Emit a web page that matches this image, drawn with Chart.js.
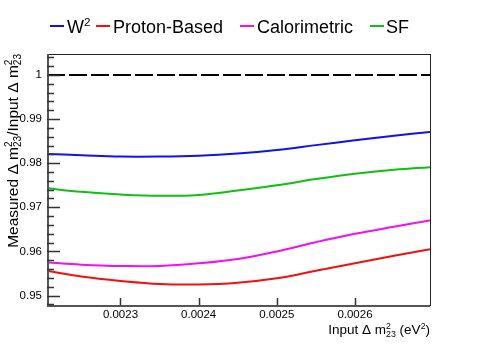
<!DOCTYPE html>
<html>
<head>
<meta charset="utf-8">
<script src="https://cdn.jsdelivr.net/npm/chart.js@4.4.1/dist/chart.umd.min.js"></script>
<style>
  html, body { margin: 0; padding: 0; background: #fff; }
  #wrap { width: 478px; height: 344px; }
</style>
</head>
<body>
<div id="wrap"><canvas id="chartRatio" width="478" height="344"></canvas></div>
<script>
const inputDm2 = [0.002206, 0.00225, 0.0023, 0.00235, 0.0024, 0.00245, 0.0025, 0.00255, 0.0026, 0.00265, 0.002696];

// Measured / input ratio for each method
const ratioW2 = [0.9821, 0.9818, 0.9815, 0.9815, 0.9817, 0.9822, 0.9830, 0.9841, 0.9852, 0.9862, 0.9871];
const ratioProton = [0.9556, 0.9543, 0.9533, 0.9526, 0.9525, 0.9529, 0.9539, 0.9556, 0.9573, 0.9590, 0.9605];
const ratioCalo = [0.9575, 0.9570, 0.9567, 0.9567, 0.9573, 0.9583, 0.9600, 0.9621, 0.9640, 0.9656, 0.9670];
const ratioSF = [0.9743, 0.9735, 0.9729, 0.9726, 0.9728, 0.9738, 0.9750, 0.9764, 0.9776, 0.9785, 0.9791];

const seriesNames = ['W', 'Proton-Based', 'Calorimetric', 'SF'];
const seriesColors = ['#1010f0', '#f01010', '#f010f0', '#10c010'];

const xTicks = [0.0023, 0.0024, 0.0025, 0.0026];
const yTicks = [0.95, 0.96, 0.97, 0.98, 0.99, 1.0];
const xMin = 0.002206, xMax = 0.002696;
const yMin = 0.94785, yMax = 1.00476;

const FONT = '"Liberation Sans", Arial, sans-serif';

function toPoints(ys) {
  return inputDm2.map((x, i) => ({ x: x, y: ys[i] }));
}

function curve(label, ys, color) {
  return {
    label: label,
    data: toPoints(ys),
    borderColor: color,
    borderWidth: 2,
    pointRadius: 0,
    tension: 0.4,
    fill: false
  };
}

// draws text pieces with super/subscripts, returns width
function drawRich(ctx, parts, x, y, size, measureOnly) {
  let cx = x;
  parts.forEach(p => {
    let fs = size, dy = 0;
    if (p.sup) { fs = size * 0.65; dy = -size * 0.38; }
    ctx.font = fs + 'px ' + FONT;
    let w = ctx.measureText(p.t).width;
    if (p.stack) {
      // superscript and subscript stacked at the same x
      ctx.font = (size * 0.65) + 'px ' + FONT;
      const w1 = ctx.measureText(p.t).width;
      const w2 = ctx.measureText(p.stack).width;
      if (!measureOnly) {
        ctx.fillText(p.t, cx, y - size * 0.38);
        ctx.fillText(p.stack, cx, y + size * 0.22);
      }
      cx += Math.max(w1, w2);
      return;
    }
    if (!measureOnly) ctx.fillText(p.t, cx, y + dy);
    cx += w;
  });
  return cx - x;
}

// ROOT-like frame, inward ticks, legend and axis titles
const rootStyle = {
  id: 'rootStyle',
  afterDatasetsDraw(chart) {
    const ctx = chart.ctx;
    const a = chart.chartArea;
    const xs = chart.scales.x, ys = chart.scales.y;
    ctx.save();

    // frame
    ctx.strokeStyle = '#222';
    ctx.lineWidth = 1;
    ctx.strokeRect(a.left + 0.5, a.top + 0.5, a.right - a.left, a.bottom - a.top);
    ctx.strokeStyle = '#555';
    ctx.lineWidth = 2;
    ctx.beginPath();
    ctx.moveTo(a.left + 1, a.top);
    ctx.lineTo(a.left + 1, a.bottom + 1);
    ctx.lineTo(a.right, a.bottom + 1);
    ctx.stroke();

    // y ticks: major every 0.01, minor every 0.002
    ctx.strokeStyle = '#333';
    ctx.lineWidth = 1.5;
    for (let k = 0; k <= 30; k++) {
      const v = 0.948 + k * 0.002;
      if (v < yMin || v > yMax) continue;
      const py = Math.round(ys.getPixelForValue(v)) + 0.5;
      const major = Math.abs(v * 100 - Math.round(v * 100)) < 1e-6;
      ctx.beginPath();
      ctx.moveTo(a.left, py);
      ctx.lineTo(a.left + (major ? 13 : 7), py);
      ctx.stroke();
    }
    // x ticks: major only
    xTicks.forEach(v => {
      const px = Math.round(xs.getPixelForValue(v)) + 0.5;
      ctx.beginPath();
      ctx.moveTo(px, a.bottom);
      ctx.lineTo(px, a.bottom - 7);
      ctx.stroke();
    });

    // legend
    const legendX = [[50, 67], [96, 113], [240, 257], [370, 386]];
    ctx.fillStyle = '#000';
    ctx.textBaseline = 'alphabetic';
    seriesNames.forEach((name, i) => {
      ctx.strokeStyle = seriesColors[i];
      ctx.lineWidth = 2;
      ctx.beginPath();
      ctx.moveTo(legendX[i][0], 26);
      ctx.lineTo(legendX[i][0] + 14, 26);
      ctx.stroke();
      const parts = i === 0 ? [{ t: name }, { t: '2', sup: true }] : [{ t: name }];
      drawRich(ctx, parts, legendX[i][1], 32.5, 18);
    });

    // x title, right aligned to the frame
    const xParts = [{ t: 'Input \u0394 m' }, { t: '2', stack: '23' }, { t: ' (eV' }, { t: '2', sup: true }, { t: ')' }];
    const xw = drawRich(ctx, xParts, 0, 0, 13.5, true);
    drawRich(ctx, xParts, a.right - xw, 334, 13.5);

    // y title, rotated, right aligned to frame top
    const yParts = [{ t: 'Measured \u0394 m' }, { t: '2', stack: '23' }, { t: '/Input \u0394 m' }, { t: '2', stack: '23' }];
    const yw = drawRich(ctx, yParts, 0, 0, 15.5, true);
    ctx.translate(17.5, a.top + yw);
    ctx.rotate(-Math.PI / 2);
    drawRich(ctx, yParts, 0, 0, 15.5);

    ctx.restore();
  }
};

const ctx = document.getElementById('chartRatio').getContext('2d');

new Chart(ctx, {
  type: 'line',
  data: {
    datasets: [
      {
        label: 'unity',
        data: [{ x: xMin, y: 1 }, { x: xMax, y: 1 }],
        borderColor: '#000',
        borderWidth: 2,
        borderDash: [18, 4],
        pointRadius: 0
      },
      curve('W2', ratioW2, seriesColors[0]),
      curve('Proton-Based', ratioProton, seriesColors[1]),
      curve('Calorimetric', ratioCalo, seriesColors[2]),
      curve('SF', ratioSF, seriesColors[3])
    ]
  },
  options: {
    responsive: false,
    animation: false,
    layout: { padding: { top: 54, right: 48, left: 0, bottom: 0 } },
    plugins: {
      legend: { display: false },
      tooltip: { enabled: false }
    },
    scales: {
      x: {
        type: 'linear',
        min: xMin,
        max: xMax,
        grid: { display: false, drawTicks: false },
        border: { display: false },
        afterBuildTicks: s => { s.ticks = xTicks.map(v => ({ value: v })); },
        afterFit: s => { s.height = 39; },
        ticks: {
          padding: 3,
          maxRotation: 0,
          color: '#000',
          font: { family: FONT, size: 11.5 },
          callback: v => v.toFixed(4)
        }
      },
      y: {
        min: yMin,
        max: yMax,
        grid: { display: false, drawTicks: false },
        border: { display: false },
        afterBuildTicks: s => { s.ticks = yTicks.map(v => ({ value: v })); },
        afterFit: s => { s.width = 47; },
        ticks: {
          padding: 5,
          color: '#000',
          font: { family: FONT, size: 11.5 },
          callback: v => (Math.abs(v - 1) < 1e-9 ? '1' : v.toFixed(2))
        }
      }
    }
  },
  plugins: [rootStyle]
});
</script>
</body>
</html>
